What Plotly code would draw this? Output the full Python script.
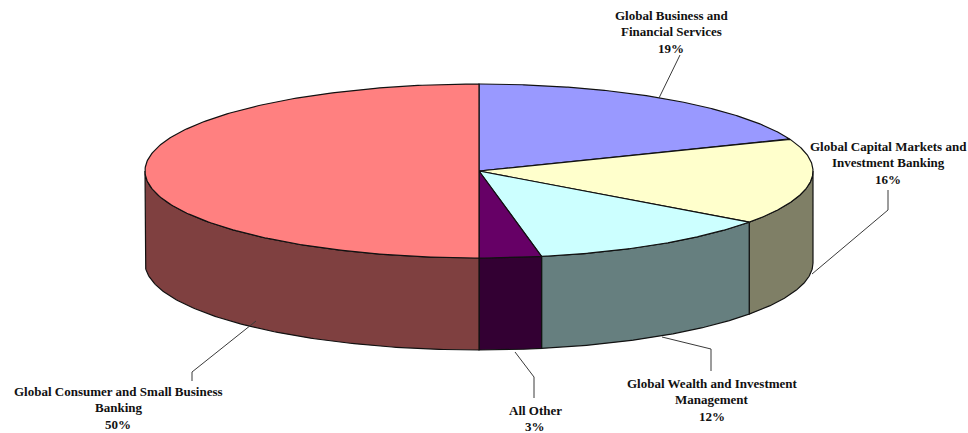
import numpy as np
import plotly.graph_objects as go

categories = ["Global Business and Financial Services", "Global Capital Markets and Investment Banking",
              "Global Wealth and Investment Management", "All Other", "Global Consumer and Small Business Banking"]
values = [19, 16, 12, 3, 50]
top_colors = ["#9999FF", "#FFFFCC", "#CCFFFF", "#660066", "#FF8080"]
side_colors = ["#4C4C7F", "#7F7F66", "#667F7F", "#330033", "#7F4040"]
label_lines = [["Global Business and", "Financial Services"],
               ["Global Capital Markets and", "Investment Banking"],
               ["Global Wealth and Investment", "Management"],
               ["All Other"],
               ["Global Consumer and Small Business", "Banking"]]
label_x = [671, 888, 712, 535, 118]
label_y = [15, 146, 383, 410, 391]
leaders = [[(680, 55), (659, 98)],
           [(888, 190), (888, 210), (812, 274)],
           [(711, 371), (711, 349), (662, 337)],
           [(534, 398), (534, 377), (515, 352)],
           [(192, 381), (192, 372), (256, 321)]]

CX, CY, RX, RY, DEPTH = 479, 171, 334, 87, 92
OUTLINE = "#111111"


def ell(a):
    return CX + RX * np.sin(a), CY - RY * np.cos(a)


fig = go.Figure()
edges = np.cumsum([0] + values) / sum(values) * 2 * np.pi

# side walls (visible front half only: 90 to 270 degrees clockwise from top)
for i, v in enumerate(values):
    lo, hi = max(edges[i], np.pi / 2), min(edges[i + 1], 3 * np.pi / 2)
    if hi <= lo:
        continue
    t = np.linspace(lo, hi, 120)
    x, y = ell(t)
    fig.add_trace(go.Scatter(x=np.r_[x, x[::-1], x[0]], y=np.r_[y, y[::-1] + DEPTH, y[0]],
                             mode="lines", fill="toself", fillcolor=side_colors[i],
                             line=dict(color=OUTLINE, width=1.2), hoverinfo="skip", showlegend=False))

# top faces
for i, v in enumerate(values):
    t = np.linspace(edges[i], edges[i + 1], 240)
    x, y = ell(t)
    fig.add_trace(go.Scatter(x=np.r_[CX, x, CX], y=np.r_[CY, y, CY],
                             mode="lines", fill="toself", fillcolor=top_colors[i],
                             line=dict(color=OUTLINE, width=1.2), name=categories[i],
                             hoverinfo="name", showlegend=False))

# leader lines
for pts in leaders:
    fig.add_trace(go.Scatter(x=[p[0] for p in pts], y=[p[1] for p in pts], mode="lines",
                             line=dict(color="#3a3a3a", width=1), hoverinfo="skip", showlegend=False))

# labels, one line at a time for exact leading
for i, lines in enumerate(label_lines):
    for j, s in enumerate(lines + [f"{values[i]}%"]):
        fig.add_annotation(x=label_x[i], y=label_y[i] + j * 16.5, text=f"<b>{s}</b>", showarrow=False,
                           xanchor="center", yanchor="middle",
                           font=dict(family="Liberation Serif", size=13, color="#111111"))

fig.update_xaxes(range=[0, 968], visible=False, fixedrange=True)
fig.update_yaxes(range=[433, 0], visible=False, fixedrange=True)
fig.update_layout(width=968, height=433, margin=dict(l=0, r=0, t=0, b=0),
                  plot_bgcolor="white", paper_bgcolor="white", showlegend=False)
fig.write_html("out.html", config={"displayModeBar": False},
               post_script="document.body.style.margin='0';document.body.style.overflow='hidden';")
